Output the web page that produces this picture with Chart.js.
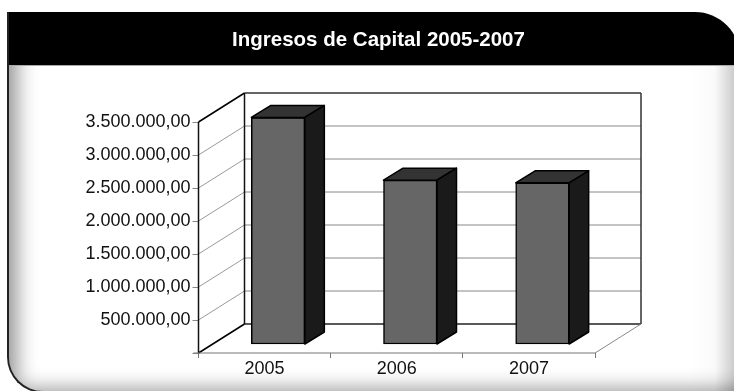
<!DOCTYPE html>
<html>
<head>
<meta charset="utf-8">
<script src="https://cdn.jsdelivr.net/npm/chart.js@4/dist/chart.umd.min.js"></script>
<style>
html,body{margin:0;padding:0;background:#fff;overflow:hidden;width:734px;height:391px}
#card{position:absolute;left:7px;top:12px;width:733px;height:381px;border-radius:0 45px 0 36px;overflow:hidden;background:#fff;border-left:2px solid #222;border-bottom:2px solid #222;box-sizing:border-box}
#body{position:absolute;left:0;right:0;top:0;bottom:0;box-shadow:inset 12px -6px 20px -4px rgba(0,0,0,.42)}
#edge{position:absolute;left:682px;width:43px;top:53px;bottom:0;background:linear-gradient(to right,rgba(0,0,0,0),rgba(0,0,0,.02) 55%,rgba(0,0,0,.2))}
#head{position:absolute;left:-2px;right:0;top:0;height:53px;background:#000;border-bottom:1px solid #aaa;box-sizing:content-box}
canvas{position:absolute;left:0;top:0;filter:blur(.4px)}
</style>
</head>
<body>
<div id="card"><div id="body"></div><div id="edge"></div><div id="head"></div></div>
<canvas id="c" width="734" height="391"></canvas>
<script>
const chartTitle = 'Ingresos de Capital 2005-2007';
const categories = ['2005', '2006', '2007'];
const capitalIncome = [3440000, 2490000, 2450000];
const tickValues = [0, 500000, 1000000, 1500000, 2000000, 2500000, 3000000, 3500000];
const tickLabels = ['', '500.000,00', '1.000.000,00', '1.500.000,00', '2.000.000,00', '2.500.000,00', '3.000.000,00', '3.500.000,00'];

const wallDepth = {x: 46, y: -29};
const barShift = {x: 13.5, y: -8.5};
const barDepth = {x: 19.5, y: -12};

function line(ctx, x1, y1, x2, y2, color, width) {
  ctx.beginPath();
  ctx.moveTo(x1, y1);
  ctx.lineTo(x2, y2);
  ctx.strokeStyle = color;
  ctx.lineWidth = width;
  ctx.stroke();
}

const walls3d = {
  id: 'walls3d',
  beforeDatasetsDraw(chart) {
    const {ctx, chartArea: a, scales: {y}} = chart;
    const d = wallDepth;
    ctx.save();
    y.ticks.forEach(t => {
      const py = y.getPixelForValue(t.value);
      if (t.value > 0 && t.value < y.max) {
        line(ctx, a.left, py, a.left + d.x, py + d.y, '#999', 1);
        line(ctx, a.left + d.x, py + d.y, a.right + d.x, py + d.y, '#888', 1);
      }
    });
    line(ctx, a.left + d.x, a.top + d.y, a.right + d.x, a.top + d.y, '#333', 1.5);
    line(ctx, a.left + d.x, a.bottom + d.y, a.right + d.x, a.bottom + d.y, '#222', 1.5);
    line(ctx, a.right + d.x, a.top + d.y, a.right + d.x, a.bottom + d.y, '#333', 1.5);
    line(ctx, a.left + d.x, a.top + d.y, a.left + d.x, a.bottom + d.y, '#111', 1.5);
    line(ctx, a.left, a.top, a.left, a.bottom, '#111', 1.5);
    line(ctx, a.left, a.top, a.left + d.x, a.top + d.y, '#000', 1.5);
    line(ctx, a.left, a.bottom, a.left + d.x, a.bottom + d.y, '#000', 1.5);
    line(ctx, a.right, a.bottom, a.right + d.x, a.bottom + d.y, '#888', 1);
    line(ctx, a.left - 5, a.bottom, a.right, a.bottom, '#777', 1.2);
    ctx.restore();
  },
  beforeDatasetDraw(chart) {
    chart.ctx.save();
    chart.ctx.translate(barShift.x, barShift.y);
  },
  afterDatasetDraw(chart, args) {
    const ctx = chart.ctx;
    const d = barDepth;
    args.meta.data.forEach(el => {
      const l = el.x - el.width / 2, r = el.x + el.width / 2, t = el.y, b = el.base;
      ctx.lineWidth = 1.5;
      ctx.strokeStyle = '#000';
      ctx.lineJoin = 'round';
      ctx.fillStyle = '#333';
      ctx.beginPath();
      ctx.moveTo(l, t); ctx.lineTo(l + d.x, t + d.y); ctx.lineTo(r + d.x, t + d.y); ctx.lineTo(r, t);
      ctx.closePath(); ctx.fill(); ctx.stroke();
      ctx.fillStyle = '#1a1a1a';
      ctx.beginPath();
      ctx.moveTo(r, t); ctx.lineTo(r + d.x, t + d.y); ctx.lineTo(r + d.x, b + d.y); ctx.lineTo(r, b);
      ctx.closePath(); ctx.fill(); ctx.stroke();
    });
    ctx.restore();
  }
};

new Chart(document.getElementById('c'), {
  type: 'bar',
  data: {
    labels: categories,
    datasets: [{
      data: capitalIncome,
      backgroundColor: '#666',
      borderColor: '#000',
      borderWidth: 1.5,
      borderSkipped: false,
      barThickness: 53.5,
      clip: false
    }]
  },
  options: {
    responsive: false,
    animation: false,
    layout: {padding: {left: 23, right: 0, top: 0, bottom: 0}},
    plugins: {
      legend: {display: false},
      tooltip: {enabled: false},
      title: {
        display: true,
        text: chartTitle,
        color: '#fff',
        font: {family: '"Liberation Sans"', size: 20.5, weight: 'bold', lineHeight: 1.2},
        padding: {top: 28.5, bottom: 68.9}
      }
    },
    scales: {
      x: {
        afterFit(s) { s.height = 38; },
        border: {display: false},
        grid: {drawOnChartArea: false, drawTicks: true, tickLength: 5, tickColor: '#777'},
        ticks: {color: '#111', font: {family: '"Liberation Sans"', size: 18}, padding: 0, maxRotation: 0}
      },
      y: {
        min: 0,
        max: 3500000,
        afterFit(s) { s.width = 175.5; },
        afterBuildTicks(s) { s.ticks = tickValues.map(value => ({value})); },
        border: {display: false},
        grid: {drawOnChartArea: false, drawTicks: true, tickLength: 6, tickColor: '#888'},
        ticks: {
          color: '#111',
          font: {family: '"Liberation Sans"', size: 18},
          padding: 2,
          callback(value, i) { return tickLabels[i]; }
        }
      },
      rightGap: {
        type: 'linear',
        position: 'right',
        afterFit(s) { s.width = 139; },
        border: {display: false},
        grid: {display: false},
        ticks: {display: false}
      }
    }
  },
  plugins: [walls3d]
});
</script>
</body>
</html>
